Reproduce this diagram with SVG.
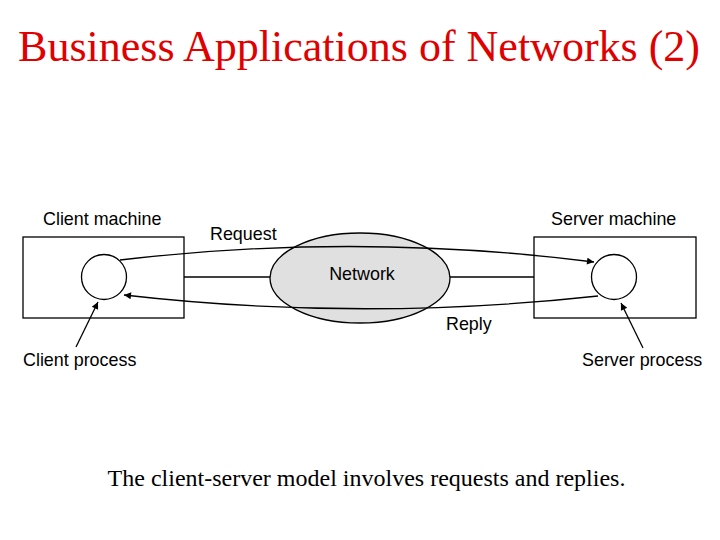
<svg xmlns="http://www.w3.org/2000/svg" width="720" height="540" viewBox="0 0 720 540">
<style>
.lbl{font-family:"Liberation Sans",Arial,sans-serif;font-size:17.9px;fill:#000}
.ln{fill:none;stroke:#000;stroke-width:1.3}
.bx{fill:#fff;stroke:#000;stroke-width:1.3}
</style>
<defs>
<marker id="ah" viewBox="0 0 10 10" refX="10" refY="5" markerWidth="10" markerHeight="7" markerUnits="userSpaceOnUse" orient="auto">
<path d="M0,0 L10,5 L0,10 z" fill="#000"/>
</marker>
</defs>
<rect width="720" height="540" fill="#fff"/>
<text x="359" y="61" text-anchor="middle" font-family="Liberation Serif,'Times New Roman',serif" font-size="44" fill="#e00000">Business Applications of Networks (2)</text>
<g id="client-machine">
<rect class="bx" x="23" y="237" width="161" height="81"/>
<text class="lbl" x="43" y="225">Client machine</text>
</g>
<g id="server-machine">
<rect class="bx" x="534" y="237" width="162" height="81"/>
<text class="lbl" x="551" y="225">Server machine</text>
</g>
<g id="network">
<ellipse cx="360" cy="278" rx="90" ry="45" fill="#e0e0e0" stroke="#000" stroke-width="1.3"/>
<text class="lbl" x="362" y="280" text-anchor="middle">Network</text>
</g>
<g id="client-process">
<circle cx="104" cy="277" r="22.5" fill="#fff" stroke="#000" stroke-width="1.3"/>
<text class="lbl" x="23" y="366">Client process</text>
</g>
<g id="server-process">
<circle cx="614" cy="277" r="22.5" fill="#fff" stroke="#000" stroke-width="1.3"/>
<text class="lbl" x="582" y="366">Server process</text>
</g>
<g id="connectors">
<line class="ln" x1="184" y1="277" x2="270" y2="277"/>
<line class="ln" x1="450" y1="277" x2="534" y2="277"/>
<path class="ln" d="M120,260 Q357,232 594,262" stroke-width="2" marker-end="url(#ah)"/>
<path class="ln" d="M598,296 Q360,322 124,295" stroke-width="2" marker-end="url(#ah)"/>
<line class="ln" x1="76" y1="347" x2="98" y2="302" marker-end="url(#ah)"/>
<line class="ln" x1="643" y1="348" x2="621" y2="303" marker-end="url(#ah)"/>
<text class="lbl" x="210" y="240">Request</text>
<text class="lbl" x="446" y="330">Reply</text>
</g>
<text x="366.5" y="486" text-anchor="middle" font-family="Liberation Serif,'Times New Roman',serif" font-size="24" fill="#000">The client-server model involves requests and replies.</text>
</svg>
